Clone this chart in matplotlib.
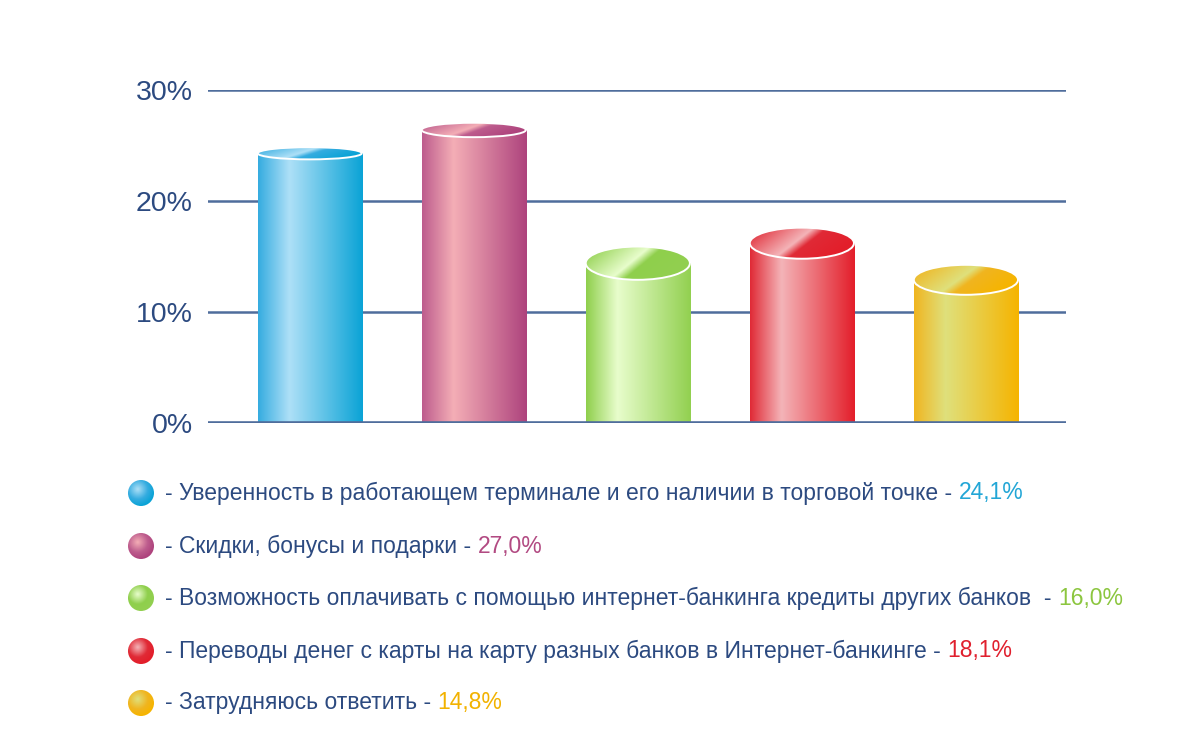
import matplotlib
import numpy as np

matplotlib.use('Agg')
import matplotlib.pyplot as plt  # noqa: E402
from matplotlib.colors import LinearSegmentedColormap  # noqa: E402
from matplotlib.patches import Ellipse, Rectangle, Circle  # noqa: E402

plt.rcParams['font.family'] = ['Liberation Sans', 'DejaVu Sans']

# data: bar heights as drawn, and the percentages printed in the legend
heights = [24.3, 26.4, 14.4, 16.2, 12.9]
labels = ["Уверенность в работающем терминале и его наличии в торговой точке",
          "Скидки, бонусы и подарки",
          "Возможность оплачивать с помощью интернет-банкинга кредиты других банков ",
          "Переводы денег с карты на карту разных банков в Интернет-банкинге",
          "Затрудняюсь ответить"]
values = ["24,1%", "27,0%", "16,0%", "18,1%", "14,8%"]
yticks = [0, 10, 20, 30]

# (edge, highlight, right edge, label colour) per bar
PALETTE = [
    ('#35ace0', '#aee0f7', '#0aa3d6', '#22a6d6'),
    ('#bd5c8d', '#f4aeb6', '#ae437d', '#b24a82'),
    ('#8fcf4c', '#e8fdcc', '#92d050', '#8cc63f'),
    ('#e02a36', '#f4b4b8', '#e31e2a', '#e0202e'),
    ('#f0b520', '#dfe07c', '#f6b400', '#f2b200'),
]
TOP_H = [1.1, 1.3, 3.0, 2.8, 2.7]   # depth of the top ellipse, data units
TEXT = '#2c4a80'
GRID = '#4f6d9c'

fig = plt.figure(figsize=(12, 7.55), dpi=100)
ax = fig.add_axes([208 / 1200, 1 - 423 / 755, 858 / 1200, 333 / 755])
ax.set_xlim(-0.62, 4.61)
ax.set_ylim(0, 30)
for s in ax.spines.values():
    s.set_visible(False)
ax.set_xticks([])
ax.set_yticks(yticks)
ax.set_yticklabels([f"{t}%" for t in yticks], fontsize=20.5, color=TEXT)
ax.tick_params(axis='y', length=0, pad=11)
for t in yticks[1:]:
    ax.axhline(t, color=GRID, lw=1.8, zorder=1)
ax.axhline(0, color=GRID, lw=2.6, zorder=4)

w = 0.635
u = np.linspace(0, 1, 256)
for i, (h, (c0, c1, c2, _)) in enumerate(zip(heights, PALETTE)):
    body = LinearSegmentedColormap.from_list(
        f'b{i}', [(0, c0), (0.3, c1), (1, c2)])
    rect = Rectangle((i - w / 2, 0), w, h, fc='none', ec='none')
    ax.add_patch(rect)
    im = ax.imshow(u[None, :], cmap=body, aspect='auto', zorder=2,
                   extent=(i - w / 2, i + w / 2, 0, h), interpolation='bilinear')
    im.set_clip_path(rect)
    # top cap with a diagonal sheen
    dh = TOP_H[i]
    X, Y = np.meshgrid(np.linspace(0, 1, 200), np.linspace(0, 1, 60))
    field = np.clip(0.5 + 0.9 * (X - 0.42) - 0.35 * (Y - 0.5), 0, 1)
    cap_cmap = LinearSegmentedColormap.from_list(
        f'c{i}', [(0, c0), (0.5, c1), (0.62, c0), (1, c2)])
    ell = Ellipse((i, h), w, dh, fc='none', ec='none')
    ax.add_patch(ell)
    im2 = ax.imshow(field, cmap=cap_cmap, aspect='auto', zorder=3, origin='lower',
                    extent=(i - w / 2, i + w / 2, h - dh / 2, h + dh / 2),
                    interpolation='bilinear', vmin=0, vmax=1)
    im2.set_clip_path(ell)
    ax.add_patch(Ellipse((i, h), w, dh, fc='none', ec='white', lw=1.4, zorder=3.5))

# legend drawn in pixel coordinates
lg = fig.add_axes([0, 0, 1, 1])
lg.set_xlim(0, 1200)
lg.set_ylim(755, 0)
lg.axis('off')
lg.patch.set_alpha(0)
rows = [493, 546, 598, 651, 703]
R, G = np.meshgrid(np.linspace(-1, 1, 80), np.linspace(-1, 1, 80))
dist = np.sqrt((R + 0.25) ** 2 + (G + 0.3) ** 2)
for (c0, c1, c2, tc), lab, val, y in zip(PALETTE, labels, values, rows):
    cmap = LinearSegmentedColormap.from_list('r', [(0, c1), (0.6, c0), (1, c2)])
    circ = Circle((141, y), 13, fc='none', ec='none')
    lg.add_patch(circ)
    im = lg.imshow(np.clip(dist / 1.3, 0, 1), cmap=cmap, vmin=0, vmax=1,
                   extent=(128, 154, y + 13, y - 13), aspect='auto',
                   interpolation='bilinear')
    im.set_clip_path(circ)
    t = lg.text(165, y, f"- {lab} - ", fontsize=16.5, color=TEXT, va='center')
    lg.annotate(val, xy=(1, 0.5), xycoords=t, va='center', fontsize=16.5,
                color=tc)
lg.set_xlim(0, 1200)
lg.set_ylim(755, 0)

fig.savefig("out.png", dpi=100)
